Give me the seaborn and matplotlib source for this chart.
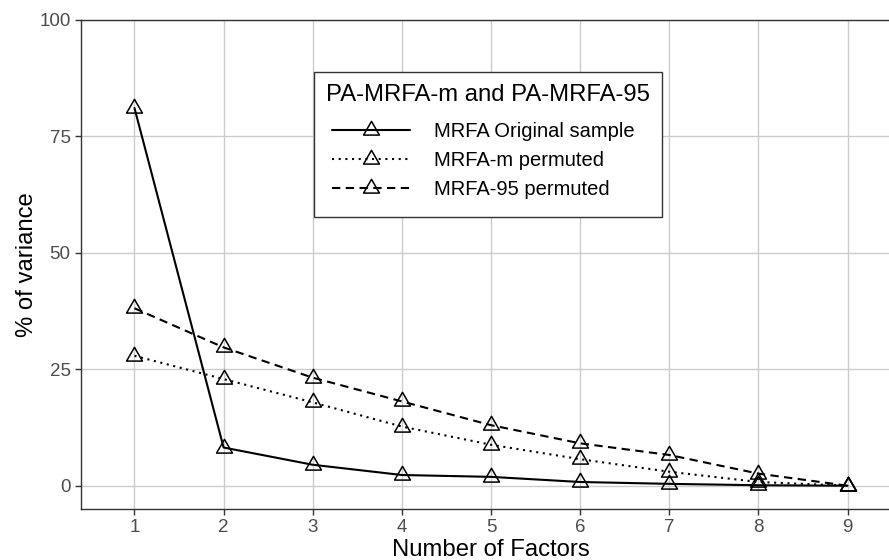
import numpy as np
import pandas as pd
import matplotlib
matplotlib.use("Agg")
import matplotlib.pyplot as plt
from matplotlib.path import Path
from matplotlib.markers import MarkerStyle
import seaborn as sns

# Parallel analysis: % of explained variance per factor
factors = [1, 2, 3, 4, 5, 6, 7, 8, 9]
original_sample = [81.1, 8.2, 4.5, 2.3, 1.9, 0.8, 0.4, 0.1, 0.0]
mean_permuted = [27.9, 22.9, 17.9, 12.7, 8.8, 5.7, 3.0, 0.8, 0.0]
p95_permuted = [38.1, 29.7, 23.2, 18.1, 13.0, 9.1, 6.6, 2.6, 0.0]

series_labels = ["MRFA Original sample", "MRFA-m permuted", "MRFA-95 permuted"]
legend_title = "PA-MRFA-m and PA-MRFA-95"
y_ticks = [0, 25, 50, 75, 100]

df = pd.DataFrame({
    "factor": factors * 3,
    "value": original_sample + mean_permuted + p95_permuted,
    "series": np.repeat(series_labels, len(factors)),
})

sns.set_theme(style="white")
plt.rcParams["font.family"] = ["Liberation Sans", "DejaVu Sans"]
plt.rcParams["text.color"] = "black"

# open triangle centred on its centroid
tri = Path([(0, 1), (-0.866, -0.5), (0.866, -0.5), (0, 1)],
           [Path.MOVETO, Path.LINETO, Path.LINETO, Path.CLOSEPOLY])
tri_marker = MarkerStyle(tri)

fig = plt.figure(figsize=(8.89, 5.6), dpi=100)
ax = fig.add_axes([81 / 889, 51 / 560, 820 / 889, 489 / 560])

lw = 1.5
sns.lineplot(
    data=df, x="factor", y="value", style="series", style_order=series_labels,
    dashes={series_labels[0]: "", series_labels[1]: (1, 2.2), series_labels[2]: (4, 2.6)},
    markers={s: tri_marker for s in series_labels},
    color="black", linewidth=lw, markersize=13.2,
    markerfacecolor="none", markeredgecolor="black", markeredgewidth=1.1,
    legend=False, ax=ax,
)

ax.set_xlim(0.4, 9.6)
ax.set_ylim(-5, 100)
ax.set_xticks(factors)
ax.set_yticks(y_ticks)
ax.grid(True, color="#CCCCCC", linewidth=1.0)
ax.set_axisbelow(True)
for side in ["left", "bottom", "top", "right"]:
    ax.spines[side].set_visible(True)
    ax.spines[side].set_color("#333333")
    ax.spines[side].set_linewidth(1.0)
ax.tick_params(axis="both", which="major", length=4.5, width=1.0, color="#333333",
               labelsize=13.5, labelcolor="#4D4D4D", pad=3, bottom=True, left=True)

title_size = 17.2
ax.set_xlabel("Number of Factors", fontsize=title_size, color="black")
ax.xaxis.label.set_va("baseline")
ax.xaxis.set_label_coords(491 / 889, 1 - 556 / 560, transform=fig.transFigure)
ax.set_ylabel("% of variance", fontsize=title_size, color="black")
ax.yaxis.set_label_coords(38 / 889, 1 - 264.5 / 560, transform=fig.transFigure)

handles = ax.lines[:3]
leg = ax.legend(
    handles=handles, labels=series_labels, title=legend_title,
    loc="upper left", bbox_to_anchor=(314 / 889, 1 - 72 / 560),
    bbox_transform=fig.transFigure, borderaxespad=0,
    fontsize=14.5, title_fontsize=title_size, frameon=True, fancybox=False,
    framealpha=1, edgecolor="#333333", handlelength=3.9, handletextpad=1.2,
    labelspacing=0.5, borderpad=0.6, numpoints=1, alignment="left",
)
leg.get_frame().set_linewidth(1.0)
leg.get_title().set_color("black")
for t in leg.get_texts():
    t.set_color("black")
# indent the key rows under the title and set the title gap
leg._legend_handle_box.pad = 4
leg._legend_box.sep = 7.6

fig.savefig("out.png", dpi=100)
